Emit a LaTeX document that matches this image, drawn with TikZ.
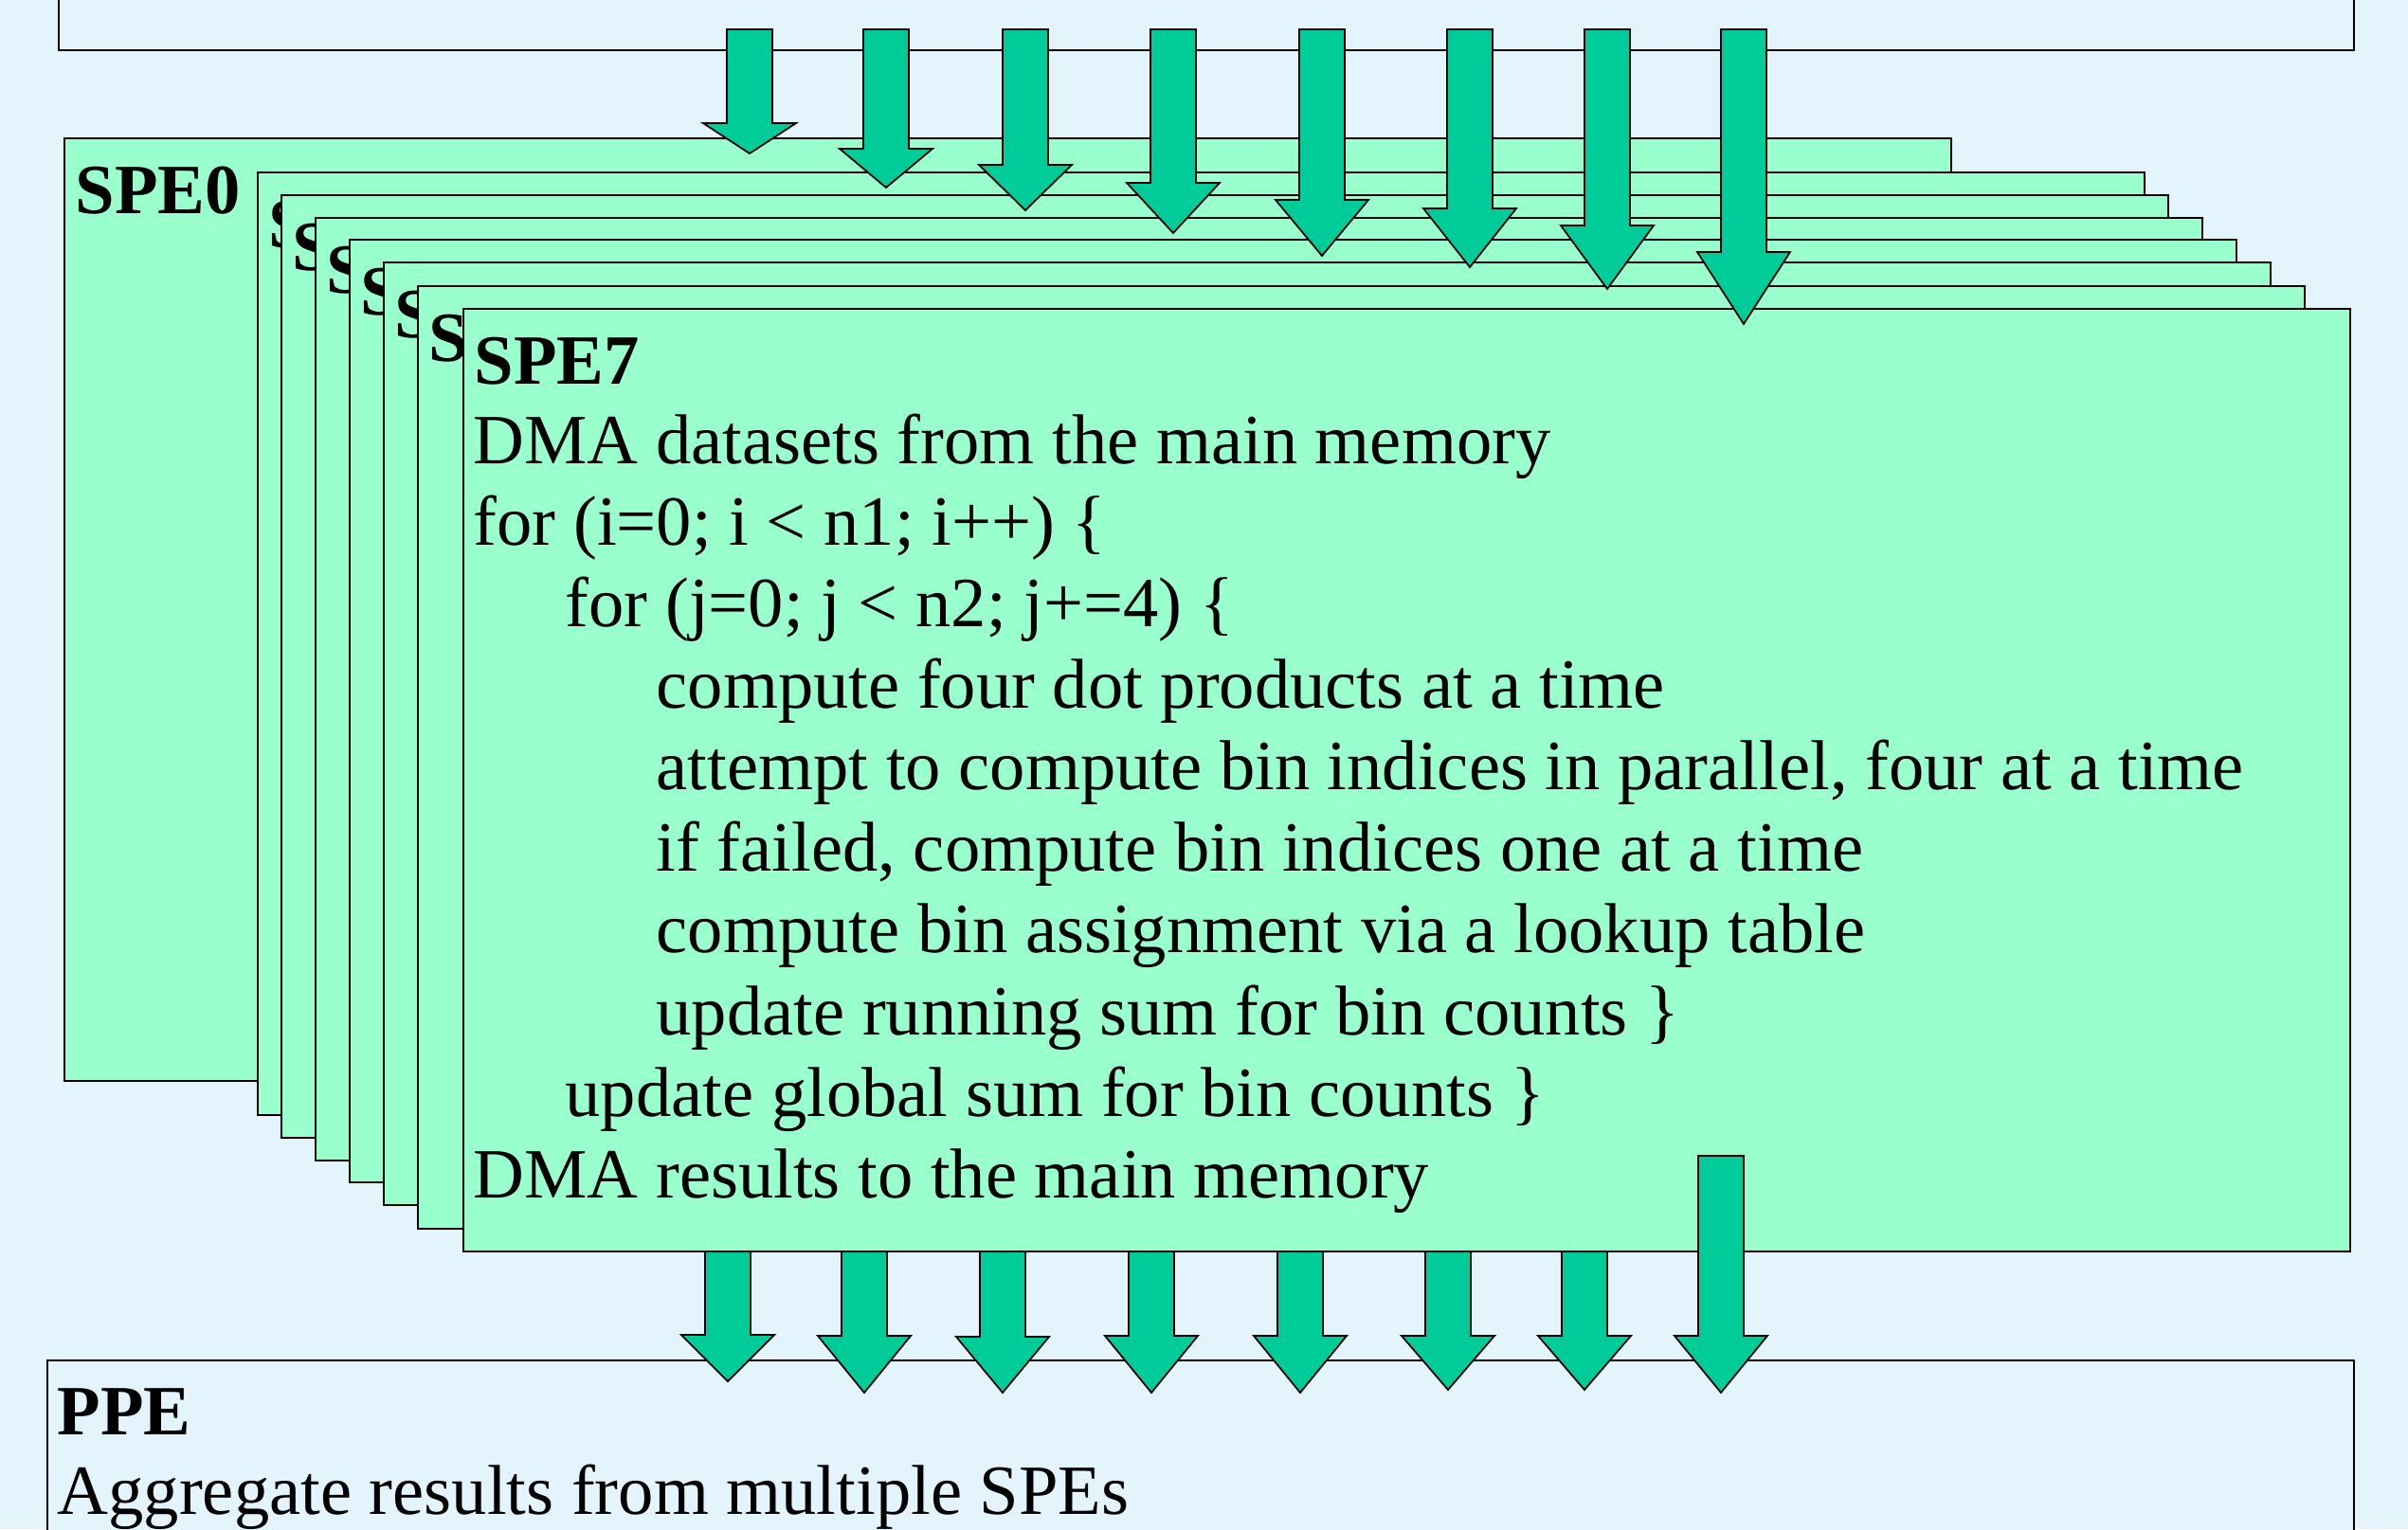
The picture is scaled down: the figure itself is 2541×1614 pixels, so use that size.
\documentclass[tikz,border=0pt]{standalone}
\usepackage{fontspec}
\setmainfont{Liberation Serif}
\usepackage{tikz}

\definecolor{pagebg}{HTML}{E3F4FD}
\definecolor{spefill}{HTML}{99FFCC}
\definecolor{dmafill}{HTML}{00CC99}

\tikzset{
  membox/.style={draw=black, line width=0.6pt, fill=pagebg},
  spebox/.style={draw=black, line width=0.6pt, fill=spefill},
  dmaarrow/.style={draw=black, line width=0.5pt, fill=dmafill, line join=miter},
  code/.style={anchor=base west, inner sep=0pt, font=\fontsize{21.2}{24}\selectfont},
  title/.style={code, font=\fontsize{21.2}{24}\selectfont\bfseries}
}

\begin{document}
\begin{tikzpicture}[x=0.01cm, y=-0.01cm]
\useasboundingbox (0,0) rectangle (2541,1614);
\clip (0,0) rectangle (2541,1614);
\fill[pagebg] (0,0) rectangle (2541,1614);
\draw[membox] (62,-20) rectangle (2484,53);
\draw[membox] (50,1436) rectangle (2484,1650);
\node[title] (ppe) at (60,1514) {PPE};
\node[code] (ppetext) at (60,1598) {Aggregate results from multiple SPEs};
\foreach \k/\l/\t in {0/68/146, 1/272/182, 2/297/206, 3/333/230, 4/369/253, 5/405/277, 6/441/302, 7/489/326} {
  \draw[spebox] (\l,\t) rectangle ++(1991,995);
  \node[title] (spe\k) at ({\l+11},{\t+79}) {SPE\k};
}
\node[code] (l1) at (499,489) {DMA datasets from the main memory};
\node[code] (l2) at (499,575) {for (i=0; i < n1; i++) \{};
\node[code] (l3) at (596,661) {for (j=0; j < n2; j+=4) \{};
\node[code] (l4) at (692,747) {compute four dot products at a time};
\node[code] (l5) at (692,833) {attempt to compute bin indices in parallel, four at a time};
\node[code] (l6) at (692,919) {if failed, compute bin indices one at a time};
\node[code] (l7) at (692,1005) {compute bin assignment via a lookup table};
\node[code] (l8) at (692,1092) {update running sum for bin counts \}};
\node[code] (l9) at (596,1178) {update global sum for bin counts \}};
\node[code] (l10) at (499,1264) {DMA results to the main memory};
\foreach \cx/\ys/\yt in {791/130/162, 935/157/198, 1082/174/222, 1238/193/246, 1395/211/270, 1551/220/282, 1696/238/305, 1840/266/342}
  \draw[dmaarrow] ({\cx-24},31) -- ({\cx+24},31) -- ({\cx+24},\ys) -- ({\cx+49},\ys) -- (\cx,\yt) -- ({\cx-49},\ys) -- ({\cx-24},\ys) -- cycle;
\foreach \cx/\yb/\ys/\yt in {768/1321/1409/1458, 912/1321/1410/1470, 1058/1321/1411/1470, 1215/1321/1410/1470, 1372/1321/1410/1470, 1528/1321/1410/1467, 1672/1321/1410/1467, 1816/1220/1410/1470}
  \draw[dmaarrow] ({\cx-24},\yb) -- ({\cx+24},\yb) -- ({\cx+24},\ys) -- ({\cx+49},\ys) -- (\cx,\yt) -- ({\cx-49},\ys) -- ({\cx-24},\ys) -- cycle;
\end{tikzpicture}
\end{document}
